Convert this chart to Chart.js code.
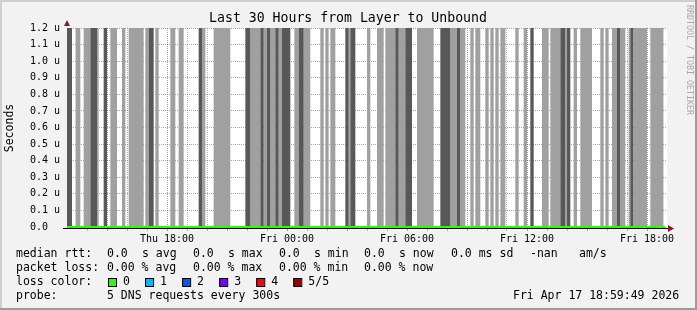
<!DOCTYPE html>
<html>
<head>
<meta charset="utf-8">
<script src="https://cdn.jsdelivr.net/npm/chart.js@4/dist/chart.umd.min.js"></script>
<style>
  html, body { margin: 0; padding: 0; background: #f2f2f2; }
  canvas { display: block; }
</style>
</head>
<body>
<canvas id="chart" width="697" height="310"></canvas>
<script>
// Window: Thu 13:00 -> Fri 19:00, all times in minutes from window start
const startHour = 13;
const windowMinutes = 1800;
const dayNames = ["Thu", "Fri"];
const yMax = 1.2;  // micro seconds

// gray stripes: start / end (minutes) and shade (1 = light, 2 = dark)
const stripeStart = [0, 25, 50, 70, 90, 110, 130, 165, 185, 235, 245, 265, 310, 335,
  395, 405, 440, 535, 550, 580, 590, 600, 610, 625, 635, 645, 682, 695, 710,
  760, 775, 790, 835, 845, 850, 900, 930, 955, 985, 995, 1015, 1050, 1120, 1150,
  1170, 1180, 1210, 1225, 1255, 1270, 1285, 1300, 1345, 1370, 1390, 1425, 1450,
  1480, 1495, 1500, 1520, 1540, 1600, 1615, 1635, 1650, 1660, 1685, 1690, 1700, 1750];
const stripeEnd = [15, 40, 70, 90, 95, 120, 150, 175, 230, 245, 260, 275, 325, 350,
  405, 415, 490, 550, 580, 590, 600, 610, 625, 635, 645, 670, 695, 710, 730,
  770, 785, 805, 845, 850, 865, 910, 950, 985, 995, 1015, 1035, 1100, 1150, 1170,
  1180, 1195, 1220, 1240, 1265, 1280, 1295, 1315, 1355, 1380, 1400, 1445, 1480,
  1495, 1500, 1510, 1530, 1575, 1610, 1625, 1650, 1660, 1675, 1690, 1700, 1740, 1790];
const stripeShade = [2, 1, 1, 2, 1, 2, 1, 1, 1, 1, 2, 1, 1, 1,
  2, 1, 1, 2, 1, 2, 1, 2, 1, 2, 1, 2, 1, 2, 1,
  1, 1, 1, 2, 1, 2, 1, 1, 1, 2, 1, 2, 1, 2, 1,
  2, 1, 1, 1, 1, 1, 1, 1, 1, 1, 2, 1, 1,
  2, 1, 2, 1, 1, 1, 1, 1, 2, 1, 1, 2, 1, 1];

// median rtt line (all zero)
const rttTimes = [0, 1795];
const rttValues = [0, 0];

// legend values
const rttStats = ["0.0", "0.0", "0.0", "0.0"];
const lossStats = ["0.00", "0.00", "0.00", "0.00"];
const lossLabels = ["0", "1", "2", "3", "4", "5/5"];
const lossColors = ["#26ff00", "#00b8ff", "#0059ff", "#7e00ff", "#ff0000", "#a00000"];

const MONO = "'DejaVu Sans Mono', monospace";
const majorGrid = "rgba(255, 0, 0, 0.5)";
const minorGrid = "rgba(110, 110, 110, 0.5)";

// each stripe becomes a closed rectangle outline of points
function stripePoints(shade) {
    const pts = [];
    stripeStart.forEach((s, i) => {
        if (stripeShade[i] !== shade) return;
        pts.push({ x: s, y: 0 });
        pts.push({ x: s, y: yMax });
        pts.push({ x: stripeEnd[i], y: yMax });
        pts.push({ x: stripeEnd[i], y: 0 });
    });
    return pts;
}

function stripeDataset(shade, color) {
    return {
        data: stripePoints(shade),
        fill: "origin",
        backgroundColor: color,
        borderColor: "transparent",
        borderWidth: 0,
        pointRadius: 0,
        tension: 0
    };
}

// background, frame and white plot area
const backgroundPlugin = {
    id: "background",
    beforeDraw(chart) {
        const ctx = chart.ctx;
        const { left, top, right, bottom } = chart.chartArea;
        ctx.save();
        ctx.fillStyle = "#f2f2f2";
        ctx.fillRect(0, 0, chart.width, chart.height);
        ctx.fillStyle = "#cfcfcf";
        ctx.fillRect(0, 0, chart.width, 2);
        ctx.fillRect(0, 0, 2, chart.height);
        ctx.fillStyle = "#9c9c9c";
        ctx.fillRect(0, chart.height - 2, chart.width, 2);
        ctx.fillRect(chart.width - 2, 0, 2, chart.height);
        ctx.fillStyle = "#ffffff";
        ctx.fillRect(left, top, right - left, bottom - top + 1);
        ctx.restore();
    }
};

// axis lines, arrows, titles and the rrd style legend
const decorPlugin = {
    id: "decor",
    afterDraw(chart) {
        const ctx = chart.ctx;
        const { left, top, right, bottom } = chart.chartArea;
        ctx.save();

        // x axis line
        ctx.strokeStyle = "#000";
        ctx.lineWidth = 1;
        ctx.beginPath();
        ctx.moveTo(left - 4, bottom + 1.5);
        ctx.lineTo(right + 2, bottom + 1.5);
        ctx.stroke();

        // arrows
        ctx.fillStyle = "#8b1a1a";
        ctx.beginPath();
        ctx.moveTo(left - 3, top - 2);
        ctx.lineTo(left + 3, top - 2);
        ctx.lineTo(left, top - 8);
        ctx.closePath();
        ctx.fill();
        ctx.beginPath();
        ctx.moveTo(right + 1, bottom - 2);
        ctx.lineTo(right + 1, bottom + 5);
        ctx.lineTo(right + 7, bottom + 1.5);
        ctx.closePath();
        ctx.fill();

        // title
        ctx.fillStyle = "#000";
        ctx.font = "13.2px " + MONO;
        ctx.textAlign = "center";
        ctx.textBaseline = "middle";
        ctx.fillText("Last 30 Hours from Layer to Unbound", 348, 19);

        // y axis title
        ctx.save();
        ctx.translate(10, 128);
        ctx.rotate(-Math.PI / 2);
        ctx.font = "11.5px " + MONO;
        ctx.fillText("Seconds", 0, 0);
        ctx.restore();

        // watermark
        ctx.save();
        ctx.translate(689, 5);
        ctx.rotate(Math.PI / 2);
        ctx.font = "8.3px " + MONO;
        ctx.textAlign = "left";
        ctx.fillStyle = "#a8a8a8";
        ctx.fillText("RRDTOOL / TOBI OETIKER", 0, 0);
        ctx.restore();

        // legend
        ctx.font = "11.5px " + MONO;
        ctx.textAlign = "left";
        ctx.fillStyle = "#000";
        const statX = [107, 193, 279, 364];
        const rttUnits = ["s avg", "s max", "s min", "s now"];
        const lossUnits = ["% avg", "% max", "% min", "% now"];

        ctx.fillText("median rtt:", 16, 254);
        rttStats.forEach((v, i) => {
            ctx.fillText(v, statX[i], 254);
            ctx.fillText(rttUnits[i], statX[i] + 35, 254);
        });
        ctx.fillText("0.0 ms sd", 451, 254);
        ctx.fillText("-nan", 530, 254);
        ctx.fillText("am/s", 579, 254);

        ctx.fillText("packet loss:", 16, 268);
        lossStats.forEach((v, i) => {
            ctx.fillText(v + " " + lossUnits[i], statX[i], 268);
        });

        ctx.fillText("loss color:", 16, 282);
        lossLabels.forEach((lbl, i) => {
            const bx = 108 + i * 37.06;
            ctx.fillStyle = lossColors[i];
            ctx.fillRect(bx, 278, 8, 8);
            ctx.strokeStyle = "#000";
            ctx.strokeRect(bx + 0.5, 278.5, 8, 8);
            ctx.fillStyle = "#000";
            ctx.fillText(lbl, bx + 15, 282);
        });

        ctx.fillText("probe:", 16, 296);
        ctx.fillText("5 DNS requests every 300s", 107, 296);
        ctx.fillText("Fri Apr 17 18:59:49 2026", 513, 296);

        ctx.restore();
    }
};

function xGridColor(c) {
    if (!c.tick) return "transparent";
    const v = c.tick.value;
    if (v <= 0 || v >= windowMinutes) return "transparent";
    return ((startHour * 60 + v) % 180 === 0) ? majorGrid : minorGrid;
}

function yGridColor(c) {
    if (!c.tick || c.tick.value === 0) return "transparent";
    return majorGrid;
}

const ctx = document.getElementById("chart").getContext("2d");
new Chart(ctx, {
    type: "line",
    data: {
        datasets: [
            {
                data: rttTimes.map((t, i) => ({ x: t, y: rttValues[i] })),
                borderColor: "#26ff00",
                borderWidth: 2,
                pointRadius: 0,
                fill: false,
                clip: false
            },
            stripeDataset(2, "#585858"),
            stripeDataset(1, "#a0a0a0")
        ]
    },
    options: {
        responsive: false,
        animation: false,
        events: [],
        layout: { padding: { left: 30, right: 30, top: 28, bottom: 0 } },
        plugins: {
            legend: { display: false },
            title: { display: false },
            tooltip: { enabled: false }
        },
        scales: {
            x: {
                type: "linear",
                min: 0,
                max: windowMinutes,
                z: 1,
                afterFit: s => { s.height = 83; },
                border: { display: false, dash: [1, 1] },
                grid: { color: xGridColor, tickLength: 4, lineWidth: 1 },
                ticks: {
                    stepSize: 60,
                    maxTicksLimit: 100,
                    autoSkip: false,
                    maxRotation: 0,
                    padding: 2,
                    color: "#000",
                    font: { family: MONO, size: 10 },
                    callback: v => {
                        const m = startHour * 60 + v;
                        if (m % 360 !== 0) return "";
                        const hh = (m / 60) % 24;
                        return dayNames[Math.floor(m / 1440)] + " " + String(hh).padStart(2, "0") + ":00";
                    }
                }
            },
            y: {
                min: 0,
                max: yMax,
                z: 1,
                afterFit: s => { s.width = 37; },
                border: { display: false, dash: [1, 1] },
                grid: { color: yGridColor, tickLength: 0, lineWidth: 1 },
                ticks: {
                    stepSize: 0.1,
                    crossAlign: "far",
                    color: "#000",
                    font: { family: MONO, size: 10 },
                    callback: v => (Math.abs(v) < 1e-9 ? "0.0" : v.toFixed(1) + " u")
                }
            }
        }
    },
    plugins: [backgroundPlugin, decorPlugin]
});
</script>
</body>
</html>
